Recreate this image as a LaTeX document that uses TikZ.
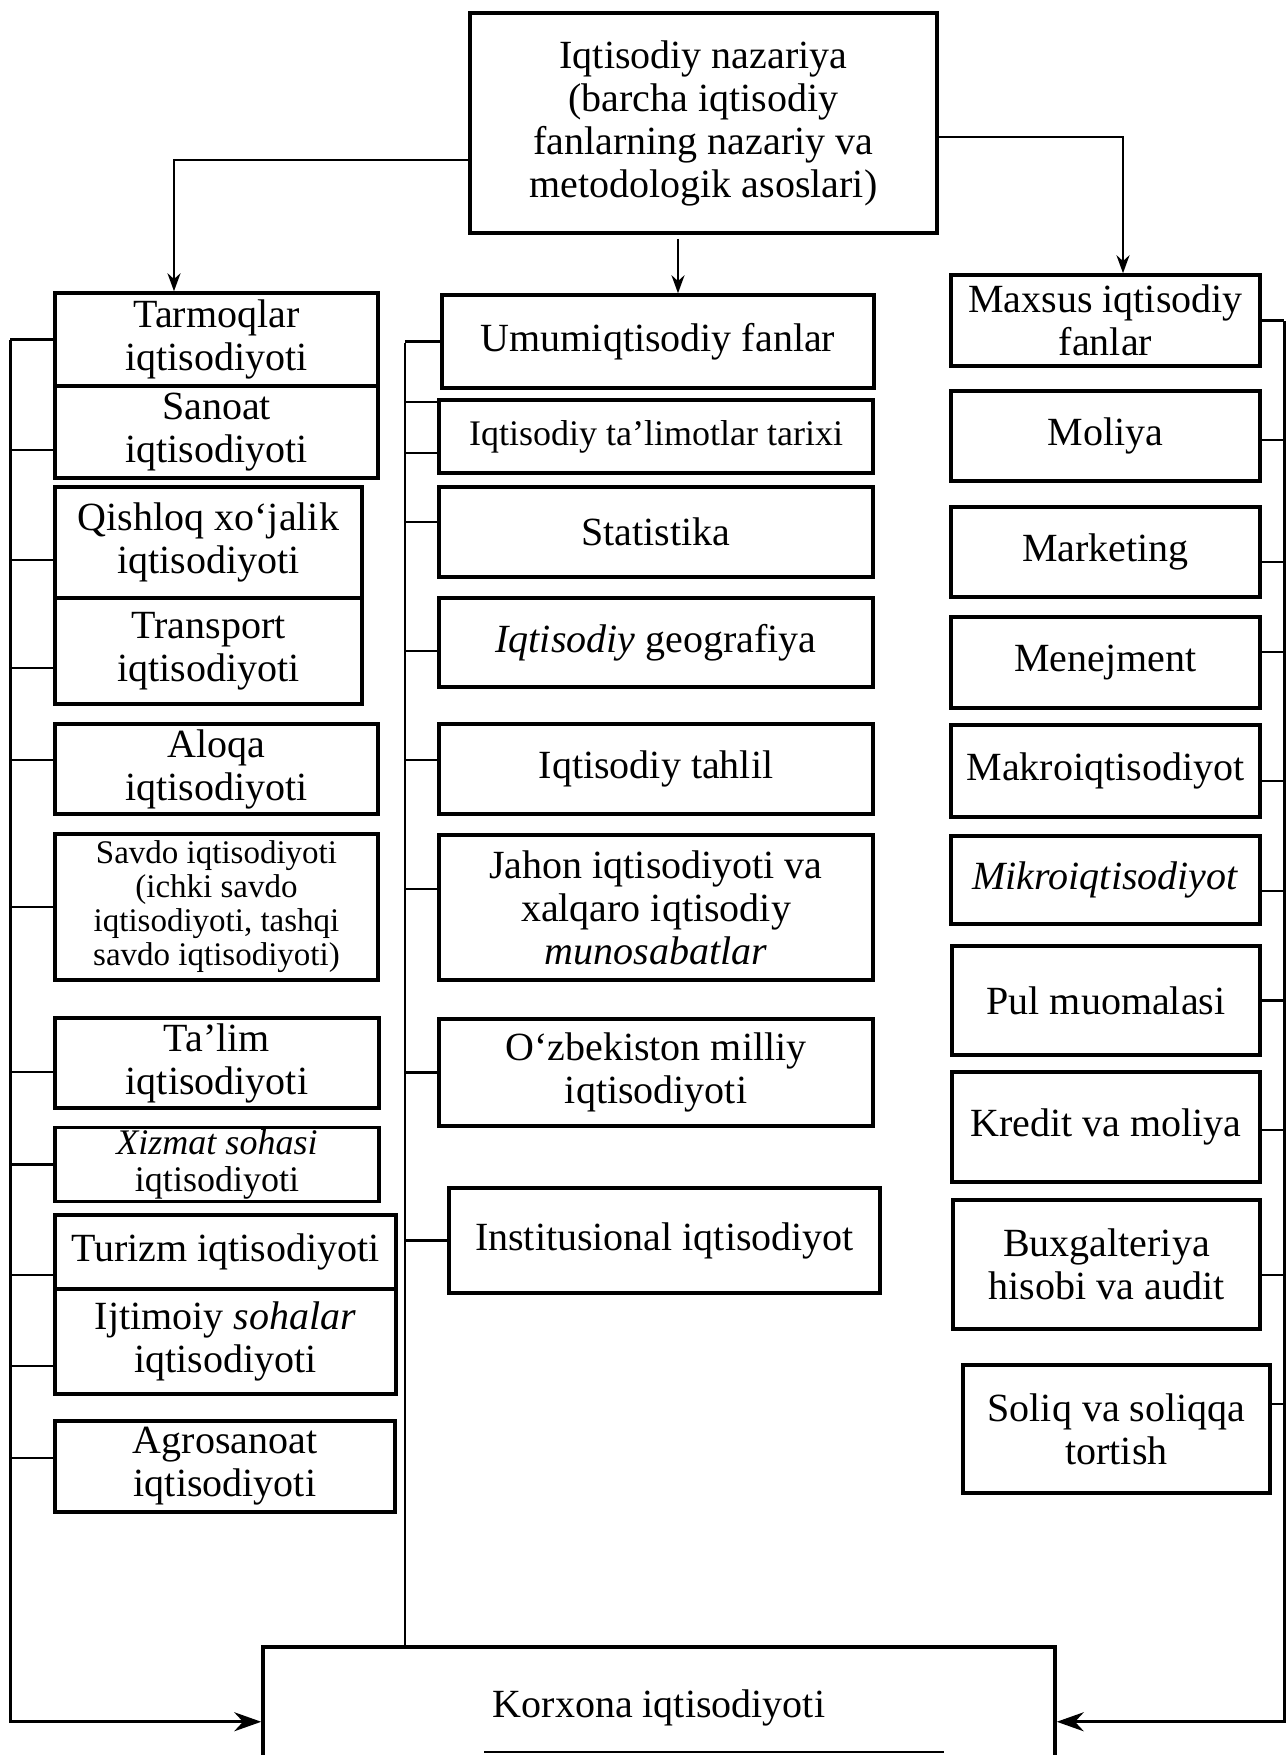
\documentclass[tikz,border=0pt]{standalone}
\usepackage{fontspec}
\setmainfont{Liberation Serif}
\usetikzlibrary{arrows.meta}

\tikzstyle{box} = [draw,line width=3.5pt,align=center,inner sep=2pt,font=\fontsize{40}{43}\selectfont]
\tikzstyle{midbox} = [box,font=\fontsize{36}{37}\selectfont]
\tikzstyle{smallbox} = [box,font=\fontsize{33}{34}\selectfont]
\tikzstyle{bus} = [draw,line width=2.5pt]
\tikzstyle{arrowdecorate} = [->,>={Stealth[length=18pt,width=13pt]},line width=2.5pt]
\tikzstyle{bigarrow} = [->,>={Stealth[length=27pt,width=19pt]},line width=3pt]

\begin{document}
\begin{tikzpicture}[x=1pt,y=-1pt]
  \useasboundingbox (0,0) rectangle (1287,1755);
  %% main nodes
  \node (top) at (703.5,123) [box,minimum width=467pt,minimum height=220pt]
    {Iqtisodiy nazariya\\(barcha iqtisodiy\\fanlarning nazariy va\\metodologik asoslari)};
  \node (korxona) at (659,1645) [box,anchor=north,minimum width=792pt,minimum height=150pt,text depth=36pt]
    {Korxona iqtisodiyoti};
  \coordinate (lbus) at (10,340);
  \coordinate (mbus) at (405,343);
  \coordinate (rbus) at (1284,321);

  %% left column
  \foreach \name/\x/\y/\w/\h/\dy/\st/\txt in {
    tarm/216.5/339.5/323/93/0/box/{Tarmoqlar\\iqtisodiyoti},
    sanoat/216.5/432/323/92/-18/box/{Sanoat\\iqtisodiyoti},
    qishloq/208.5/542.5/307/111/-17.5/box/{Qishloq xo‘jalik\\iqtisodiyoti},
    transport/208.5/651/307/106/-17/box/{Transport\\iqtisodiyoti},
    aloqa/216.5/769/323/90/9/box/{Aloqa\\iqtisodiyoti},
    savdo/216.5/907/323/146/0/smallbox/{Savdo iqtisodiyoti\\(ichki savdo\\iqtisodiyoti, tashqi\\savdo iqtisodiyoti)},
    talim/217/1063/324/90/-9/box/{Ta’lim\\iqtisodiyoti},
    xizmat/217/1164.5/324/73/0/midbox/{\textit{Xizmat sohasi}\\iqtisodiyoti},
    turizm/225.5/1252/341/74/-23/box/{Turizm iqtisodiyoti},
    ijtimoiy/225.5/1341.5/341/105/-24.5/box/{Ijtimoiy \textit{sohalar}\\iqtisodiyoti},
    agro/225/1466.5/340/91/8.5/box/{Agrosanoat\\iqtisodiyoti}}
  {
    \node (\name) at (\x,\y) [\st,minimum width=\w pt,minimum height=\h pt] {\txt};
    \coordinate (\name stub) at ([yshift=\dy pt]\name.west);
    \draw[bus] (\name stub) -- (\name stub -| lbus);
  }

  %% middle column
  \foreach \name/\x/\y/\w/\h/\dy/\st/\txt in {
    umum/658/341.5/432/93/0/box/{Umumiqtisodiy fanlar},
    talimot/656/436.5/434/73/34.5/midbox/{Iqtisodiy ta’limotlar tarixi},
    stat/656/532/434/90/10/box/{Statistika},
    geo/656/642.5/434/89/-8.5/box/{\textit{Iqtisodiy} geografiya},
    tahlil/656/769/434/90/9/box/{Iqtisodiy tahlil},
    jahon/656/907.5/434/145/18.5/box/{Jahon iqtisodiyoti va\\xalqaro iqtisodiy\\\textit{munosabatlar}},
    uzb/656/1072.5/434/107/0/box/{O‘zbekiston milliy\\iqtisodiyoti},
    inst/664.5/1240.5/431/105/0/box/{Institusional iqtisodiyot}}
  {
    \node (\name) at (\x,\y) [\st,minimum width=\w pt,minimum height=\h pt] {\txt};
    \coordinate (\name stub) at ([yshift=\dy pt]\name.west);
    \draw[bus] (\name stub) -- (\name stub -| mbus);
  }
  \coordinate (talimot stub2) at ([yshift=-16.5pt]talimot.west);
  \draw[bus] (talimot stub2) -- (talimot stub2 -| mbus);

  %% right column
  \foreach \name/\x/\y/\w/\h/\dy/\st/\txt in {
    maxsus/1105.5/320.5/309/91/0/box/{Maxsus iqtisodiy\\fanlar},
    moliya/1105.5/436/309/90/-4/box/{Moliya},
    market/1105.5/552/309/90/-10/box/{Marketing},
    menej/1105.5/662.5/309/91/10.5/box/{Menejment},
    makro/1105.5/771/309/92/-10/box/{Makroiqtisodiyot},
    mikro/1105.5/880/309/88/-11/box/{\textit{Mikroiqtisodiyot}},
    pul/1106/1000.5/308/109/0/box/{Pul muomalasi},
    kredit/1106/1127/308/110/-3/box/{Kredit va moliya},
    bux/1106.5/1264.5/307/129/-10.5/box/{Buxgalteriya\\hisobi va audit},
    soliq/1116.5/1429/307/128/25/box/{Soliq va soliqqa\\tortish}}
  {
    \node (\name) at (\x,\y) [\st,minimum width=\w pt,minimum height=\h pt] {\txt};
    \coordinate (\name stub) at ([yshift=\dy pt]\name.east);
    \draw[bus] (\name stub) -- (\name stub -| rbus);
  }

  %% edges
  \draw[arrowdecorate] ([yshift=-37pt]top.west) -| ([xshift=-42.5pt]tarm.north);
  \draw[arrowdecorate] ([xshift=-25.5pt,yshift=-4pt]top.south) -- ([xshift=20pt]umum.north);
  \draw[arrowdecorate] ([yshift=-14pt]top.east) -| ([xshift=17.5pt]maxsus.north);
  \draw[bigarrow] (lbus) |- (korxona.west);
  \draw[bus] (mbus) -- (mbus |- korxona.north);
  \draw[bigarrow] (rbus) |- (korxona.east);
  \draw[bus] (484,1752) -- (944,1752);
\end{tikzpicture}
\end{document}
